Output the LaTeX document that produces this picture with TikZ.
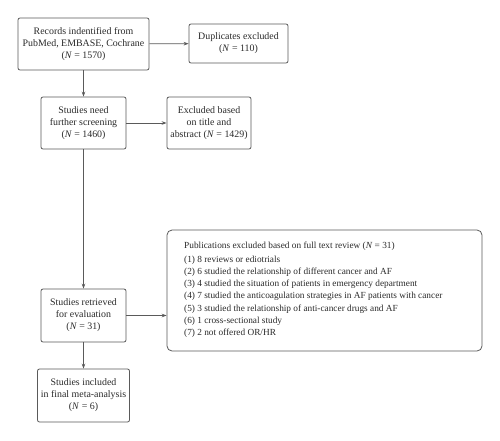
\documentclass[tikz,border=0pt]{standalone}
\usepackage{fontspec}
\setmainfont{Liberation Serif}
\usetikzlibrary{arrows.meta}
\definecolor{linec}{HTML}{5A5A5A}
\definecolor{textc}{HTML}{2A2A2A}
\begin{document}
\begin{tikzpicture}[x=1pt,y=-1pt,
  flowbox/.style={draw=linec,line width=0.8pt,rounded corners=2pt,inner sep=0pt,
    align=center,text=textc,font=\fontsize{9.9}{12}\selectfont},
  bigbox/.style={draw=linec,line width=0.8pt,rounded corners=5pt,inner sep=0pt},
  bigtext/.style={inner sep=0pt,align=left,text=textc,font=\fontsize{9.3}{12.3}\selectfont},
  flowarrow/.style={draw=linec,line width=0.8pt,-{Stealth[length=5pt,width=3.6pt]}}]
\useasboundingbox (0,0) rectangle (500,440);
\fill[white] (0,0) rectangle (500,440);
\node[flowbox,minimum width=131pt,minimum height=52pt] (rec) at (83.5,44)
  {Records indentified from\\PubMed, EMBASE, Cochrane\\(\textit{N} = 1570)};
\node[flowbox,minimum width=99pt,minimum height=39pt] (dup) at (238.5,43.5)
  {Duplicates excluded\\(\textit{N} = 110)};
\node[flowbox,minimum width=85pt,minimum height=52pt] (scr) at (83.5,123)
  {Studies need\\further screening\\(\textit{N} = 1460)};
\node[flowbox,minimum width=84pt,minimum height=52pt] (exc) at (209,123)
  {Excluded based\\on title and\\abstract (\textit{N} = 1429)};
\node[flowbox,minimum width=85pt,minimum height=53pt] (ret) at (83.5,315.5)
  {Studies retrieved\\for evaluation\\(\textit{N} = 31)};
\node[bigbox,minimum width=315pt,minimum height=121pt] (pub) at (324.5,290.5) {};
\node[bigtext,anchor=west] (pubtext) at (184,290)
  {Publications excluded based on full text review (\textit{N} = 31)\\[1pt]
   (1) 8 reviews or ediotrials\\
   (2) 6 studied the relationship of different cancer and AF\\
   (3) 4 studied the situation of patients in emergency department\\
   (4) 7 studied the anticoagulation strategies in AF patients with cancer\\
   (5) 3 studied the relationship of anti-cancer drugs and AF\\
   (6) 1 cross-sectional study\\
   (7) 2 not offered OR/HR};
\node[flowbox,minimum width=92pt,minimum height=53pt] (inc) at (83.5,395.5)
  {Studies included\\in final meta-analysis\\(\textit{N} = 6)};
\draw[flowarrow] (rec) -- (dup);
\draw[flowarrow] (rec) -- (scr);
\draw[flowarrow] (scr) -- (exc);
\draw[flowarrow] (scr) -- (ret);
\draw[flowarrow] (ret) -- (ret.east -| pub.west);
\draw[flowarrow] (ret) -- (inc);
\end{tikzpicture}
\end{document}
